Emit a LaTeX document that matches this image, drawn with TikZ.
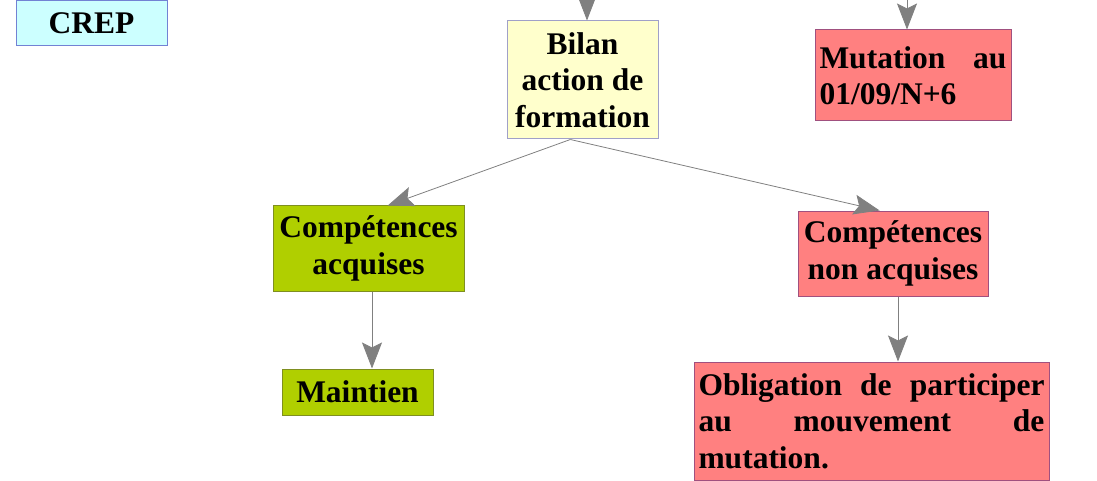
\documentclass[tikz,border=0pt]{standalone}
\usepackage{fontspec}
\setmainfont{Liberation Serif}
\usetikzlibrary{arrows.meta,calc}
\definecolor{crepfill}{HTML}{CCFFFF}
\definecolor{crepline}{HTML}{7282D4}
\definecolor{bilanfill}{HTML}{FFFFCC}
\definecolor{bilanline}{HTML}{A0A0C8}
\definecolor{redfill}{HTML}{FF8080}
\definecolor{redline}{HTML}{A0507F}
\definecolor{greenfill}{HTML}{B0CF00}
\definecolor{greenline}{HTML}{7F8F20}
\definecolor{arrowgray}{HTML}{808080}
\hyphenpenalty=10000
\tolerance=9999

\begin{document}
\begin{tikzpicture}[x=1pt, y=-1pt, every node/.style={font=\fontsize{31.5}{36.5}\selectfont\bfseries}]
  \tikzstyle{mybox}=[draw,line width=1pt,inner sep=4.5pt,align=center]
  \tikzstyle{myarrow}=[draw=arrowgray,line width=0.8pt,-{Stealth[length=26pt,width=20pt,inset=5pt]}]
  \useasboundingbox (0,0) rectangle (1097,481);
  \node[mybox,fill=crepfill,draw=crepline,minimum width=151pt,minimum height=45pt] (crep) at (91.5,23.5) {CREP};
  \node[mybox,fill=bilanfill,draw=bilanline,minimum width=151pt,minimum height=118pt] (bilan) at (582.5,80) {Bilan\\action de\\formation};
  \node[mybox,fill=redfill,draw=redline,text width=187pt,align=justify,minimum height=91pt] (mutation) at (913,75.5) {Mutation au 01/09/N+6};
  \node[mybox,fill=greenfill,draw=greenline,minimum width=191pt,minimum height=85pt] (acquises) at (368.5,248.5) {Compétences\\acquises};
  \node[mybox,fill=greenfill,draw=greenline,minimum width=151pt,minimum height=46pt] (maintien) at (357.5,392) {Maintien};
  \node[mybox,fill=redfill,draw=redline,minimum width=190pt,minimum height=85pt] (nonacq) at (893,253.5) {Compétences\\non acquises};
  \node[mybox,fill=redfill,draw=redline,text width=346pt,align=justify,minimum height=118pt] (oblig) at (871.5,421) {Obligation de participer au mouvement de mutation.};
  \coordinate (bilantop) at (587,-5);
  \coordinate (muttop) at (907,-5);
  \coordinate (acqout) at ($(acquises.south)+(3.5,0)$);
  \coordinate (nonout) at ($(nonacq.south)+(5,0)$);
  \draw[myarrow] (bilantop) -- (bilantop |- bilan.north);
  \draw[myarrow] (muttop) -- (muttop |- mutation.north);
  \draw[myarrow] ($(bilan.south west)!0.42!(bilan.south east)$) -- ($(acquises.north west)!0.6!(acquises.north east)$);
  \draw[myarrow] ($(bilan.south west)!0.42!(bilan.south east)$) -- ($(nonacq.north west)!0.43!(nonacq.north east)$);
  \draw[myarrow] (acqout) -- (acqout |- maintien.north);
  \draw[myarrow] (nonout) -- (nonout |- oblig.north);
\end{tikzpicture}
\end{document}
